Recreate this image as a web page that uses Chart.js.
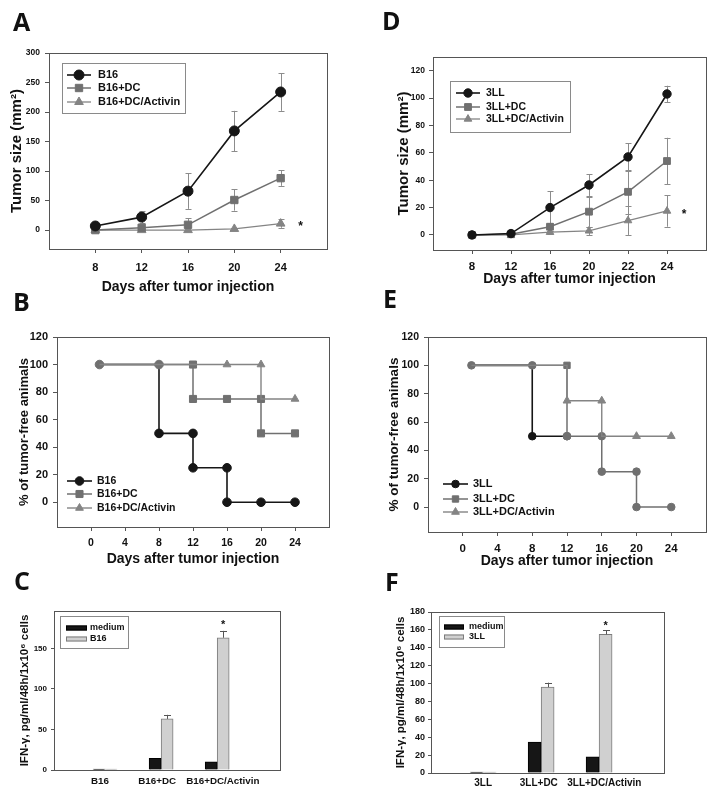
<!DOCTYPE html>
<html>
<head>
<meta charset="utf-8">
<title>Tumor growth, tumor-free animals and IFN-γ</title>
<script src="https://cdn.jsdelivr.net/npm/chart.js@4.4.1/dist/chart.umd.min.js"></script>
<style>
  body { margin: 0; background: #fff; }
  #fig { position: relative; width: 714px; height: 794px; overflow: hidden; }
  #fig canvas { position: absolute; }
  .tag { position: absolute; z-index: 2; color: #111; font: bold 25px/25px "Open Sans", sans-serif; }
</style>
</head>
<body>
<div id="fig">
  <canvas id="chartA" width="357" height="300" style="left:0;top:0"></canvas>
  <canvas id="chartD" width="357" height="300" style="left:357px;top:0"></canvas>
  <canvas id="chartB" width="357" height="290" style="left:0;top:290px"></canvas>
  <canvas id="chartE" width="357" height="290" style="left:357px;top:290px"></canvas>
  <canvas id="chartC" width="357" height="214" style="left:0;top:580px"></canvas>
  <canvas id="chartF" width="357" height="214" style="left:357px;top:580px"></canvas>
  <div class="tag" style="left:13px;top:9px">A</div>
  <div class="tag" style="left:382px;top:8px">D</div>
  <div class="tag" style="left:13px;top:289px">B</div>
  <div class="tag" style="left:383px;top:286px">E</div>
  <div class="tag" style="left:14px;top:568px">C</div>
  <div class="tag" style="left:385px;top:569px">F</div>
</div>
<script>
// A: B16 tumour size
var daysA = [8, 12, 16, 20, 24];
var b16Size = [7, 22, 66, 168, 234];
var b16SizeErr = [2, 10, 30, 34, 32];
var b16DcSize = [0, 4, 9, 51, 88];
var b16DcSizeErr = [0, 2, 11, 18, 13];
var b16ActSize = [0, 0, 0, 2, 11];
var b16ActSizeErr = [0, 0, 0, 1, 7];
var sizeTicksA = [0, 50, 100, 150, 200, 250, 300];

// D: 3LL tumour size (days drawn evenly spaced)
var daysD = ['8', '12', '16', '20', '22', '24'];
var lllSize = [0, 1, 20, 36.5, 57, 103];
var lllSizeErr = [0, 1, 12, 8, 10, 6];
var lllDcSize = [0, 0.5, 6, 17, 31.5, 54];
var lllDcSizeErr = [0, 0, 3, 11, 16, 17];
var lllActSize = [0, 0, 2, 3, 10.5, 17.5];
var lllActSizeErr = [0, 0, 1, 3, 10.5, 11.5];
var sizeTicksD = [0, 20, 40, 60, 80, 100, 120];

// B: B16 tumour-free animals (step curves, a drop is listed twice)
var b16Days = [1, 8, 8, 12, 12, 16, 16, 20, 24];
var b16Free = [100, 100, 50, 50, 25, 25, 0, 0, 0];
var b16DcDays = [1, 8, 12, 12, 16, 20, 20, 24];
var b16DcFree = [100, 100, 100, 75, 75, 75, 50, 50];
var b16ActDays = [1, 8, 12, 16, 20, 20, 24];
var b16ActFree = [100, 100, 100, 100, 100, 75, 75];

// E: 3LL tumour-free animals
var lllDays = [1, 8, 8, 12];
var lllFree = [100, 100, 50, 50];
var lllDcDays = [1, 8, 12, 12, 16, 16, 20, 20, 24];
var lllDcFree = [100, 100, 100, 50, 50, 25, 25, 0, 0];
var lllActDays = [1, 12, 12, 16, 16, 20, 24];
var lllActFree = [100, 100, 75, 75, 50, 50, 50];

var freeTicks = [0, 20, 40, 60, 80, 100, 120];
var dayTicks = [0, 4, 8, 12, 16, 20, 24];

// C / F: IFN-gamma
var groupsC = ['B16', 'B16+DC', 'B16+DC/Activin'];
var groupLabelAtC = [-0.09, 0.93, 2.1];
var mediumC = [1, 14.5, 10];
var b16C = [1, 63, 163];
var b16CErr = [0, 5, 8.5];
var ifnTicksC = [0, 50, 100, 150];

var groupsF = ['3LL', '3LL+DC', '3LL+DC/Activin'];
var groupLabelAtF = [0, 0.96, 2.09];
var mediumF = [1, 34.5, 18];
var lllF = [1, 96, 155];
var lllFErr = [0, 5, 4.5];
var ifnTicksF = [0, 20, 40, 60, 80, 100, 120, 140, 160, 180];

var FONT = '"Liberation Sans", Arial, sans-serif';
var INK = '#111111';
var DARK = '#161616';
var GREY = '#707070';
var GREY2 = '#848484';
var EDGE = '#555555';

Chart.defaults.font.family = FONT;
Chart.defaults.color = INK;

function pairs(xs, ys) {
   return xs.map(function (x, i) { return { x: x, y: ys[i] }; });
}
function idx(list) {
   return list.map(function (_, i) { return i; });
}

function axis(o) {
   return {
      type: 'linear', min: o.min, max: o.max, offset: false,
      afterBuildTicks: function (s) { s.ticks = o.ticks.map(function (v) { return { value: v }; }); },
      afterFit: function (s) { if (s.isHorizontal()) s.height = o.size; else s.width = o.size; },
      grid: { drawOnChartArea: false, drawTicks: o.tick > 0, tickLength: o.tick || 0, color: EDGE },
      border: { display: false },
      ticks: {
         autoSkip: false, maxRotation: 0, padding: o.pad, color: INK,
         font: { size: o.font, weight: 'bold' },
         callback: function (v, i) { return o.names ? o.names[i] : String(v); }
      },
      title: {
         display: !!o.title, text: o.title || '', color: INK,
         font: { size: o.titleSize, weight: 'bold' }, padding: o.titlePad
      }
   };
}

// box around the plot area
var frame = {
   id: 'frame',
   beforeDatasetsDraw: function (chart) {
      var a = chart.chartArea, ctx = chart.ctx;
      ctx.save();
      ctx.strokeStyle = EDGE;
      ctx.lineWidth = 1;
      ctx.strokeRect(Math.round(a.left) + 0.5, Math.round(a.top) + 0.5,
         Math.round(a.right - a.left), Math.round(a.bottom - a.top));
      ctx.restore();
   }
};

function drawErrors(chart, o) {
   var ctx = chart.ctx, y = chart.scales.y;
   ctx.save();
   ctx.strokeStyle = o.color;
   ctx.lineWidth = 1;
   chart.data.datasets.forEach(function (ds, d) {
      if (!ds.errors) return;
      chart.getDatasetMeta(d).data.forEach(function (el, i) {
         var e = ds.errors[i];
         if (!e) return;
         var v = ds.data[i].y;
         var top = y.getPixelForValue(v + e);
         var bot = o.upOnly ? el.y : y.getPixelForValue(v - e);
         var x = Math.round(el.x) + 0.5;
         ctx.beginPath();
         ctx.moveTo(x, top); ctx.lineTo(x, bot);
         ctx.moveTo(x - o.cap, Math.round(top) + 0.5); ctx.lineTo(x + o.cap, Math.round(top) + 0.5);
         if (!o.upOnly) {
            ctx.moveTo(x - o.cap, Math.round(bot) + 0.5); ctx.lineTo(x + o.cap, Math.round(bot) + 0.5);
         }
         ctx.stroke();
      });
   });
   ctx.restore();
}

var errBars = {
   id: 'errBars',
   beforeDatasetsDraw: function (chart, args, o) { if (o.color && o.under) drawErrors(chart, o); },
   afterDatasetsDraw: function (chart, args, o) { if (o.color && !o.under) drawErrors(chart, o); }
};

// legend drawn inside the plot
var keyBox = {
   id: 'keyBox',
   afterDraw: function (chart, args, o) {
      if (!o.rows) return;
      var ctx = chart.ctx;
      ctx.save();
      if (o.box) {
         ctx.fillStyle = '#fff';
         ctx.strokeStyle = '#8a8a8a';
         ctx.lineWidth = 1;
         ctx.fillRect(o.box[0], o.box[1], o.box[2] - o.box[0], o.box[3] - o.box[1]);
         ctx.strokeRect(o.box[0] + 0.5, o.box[1] + 0.5, o.box[2] - o.box[0], o.box[3] - o.box[1]);
      }
      ctx.font = 'bold ' + o.font + 'px ' + FONT;
      ctx.textBaseline = 'middle';
      chart.data.datasets.forEach(function (ds, i) {
         var y = o.rows[i];
         if (o.swatch) {
            ctx.fillStyle = ds.backgroundColor;
            ctx.strokeStyle = ds.borderColor;
            ctx.lineWidth = 1;
            ctx.fillRect(o.line[0], y - o.swatch / 2, o.line[1] - o.line[0], o.swatch);
            ctx.strokeRect(o.line[0] + 0.5, y - o.swatch / 2 + 0.5, o.line[1] - o.line[0] - 1, o.swatch - 1);
         } else {
            ctx.strokeStyle = ds.borderColor;
            ctx.lineWidth = ds.borderWidth;
            ctx.beginPath();
            ctx.moveTo(o.line[0], y); ctx.lineTo(o.line[1], y);
            ctx.stroke();
            ctx.fillStyle = ds.mark.color;
            ctx.strokeStyle = ds.mark.color;
            ctx.lineWidth = 1;
            Chart.helpers.drawPoint(ctx, { pointStyle: ds.mark.style, radius: ds.mark.r, rotation: 0, borderWidth: 1 },
               (o.line[0] + o.line[1]) / 2, y);
         }
         ctx.fillStyle = INK;
         ctx.fillText(ds.label, o.textX, y);
      });
      ctx.restore();
   }
};

// significance asterisk next to a data point
var star = {
   id: 'star',
   afterDatasetsDraw: function (chart, args, o) {
      if (o.dataset === undefined) return;
      var ds = chart.data.datasets[o.dataset];
      var el = chart.getDatasetMeta(o.dataset).data[o.index];
      var v = ds.data[o.index].y + (o.overErr ? ds.errors[o.index] : 0);
      var ctx = chart.ctx;
      ctx.save();
      ctx.fillStyle = INK;
      ctx.font = 'bold ' + o.size + 'px ' + FONT;
      ctx.textAlign = 'center';
      ctx.textBaseline = 'alphabetic';
      ctx.fillText('*', el.x + o.dx, chart.scales.y.getPixelForValue(v) + o.dy + o.size * 0.57);
      ctx.restore();
   }
};

function panel(id, type, datasets, x, y, pad, extra) {
   return new Chart(document.getElementById(id), {
      type: type,
      data: { datasets: datasets },
      options: {
         responsive: false, animation: false, devicePixelRatio: 1,
         layout: { padding: pad },
         scales: { x: x, y: y },
         plugins: Object.assign({ legend: { display: false }, tooltip: { enabled: false } }, extra)
      },
      plugins: [frame, errBars, keyBox, star]
   });
}

function series(label, data, color, width, style, r, extra) {
   return Object.assign({
      label: label, data: data, borderColor: color, borderWidth: width,
      pointStyle: style, pointRadius: r, pointBackgroundColor: color, pointBorderColor: color,
      pointBorderWidth: 1, tension: 0, fill: false,
      mark: { style: style, r: r, color: color }
   }, extra || {});
}

// ---- A ----
panel('chartA', 'line', [
   series('B16', pairs(daysA, b16Size), DARK, 1.6, 'circle', 5, { errors: b16SizeErr }),
   series('B16+DC', pairs(daysA, b16DcSize), GREY, 1.5, 'rect', 5.2, { errors: b16DcSizeErr }),
   series('B16+DC/Activin', pairs(daysA, b16ActSize), GREY2, 1.3, 'triangle', 5, { errors: b16ActSizeErr })
],
   axis({ min: 4, max: 28, ticks: daysA, size: 51, tick: 4, pad: 8, font: 11,
      title: 'Days after tumor injection', titleSize: 14, titlePad: { bottom: 4 } }),
   axis({ min: -32, max: 300, ticks: sizeTicksA, size: 49, tick: 4, pad: 5, font: 8.5,
      title: 'Tumor size (mm²)', titleSize: 15, titlePad: { top: 8 } }),
   { left: 0, top: 53, right: 30, bottom: 0 },
   {
      errBars: { color: '#8c8c8c', cap: 3, under: true },
      keyBox: { box: [62, 63, 185, 113], rows: [75, 88, 102], line: [67, 91], textX: 98, font: 11 },
      star: { dataset: 2, index: 4, dx: 20, dy: 0, size: 12 }
   });

// ---- D ----
panel('chartD', 'line', [
   series('3LL', pairs(idx(daysD), lllSize), DARK, 1.6, 'circle', 4.2, { errors: lllSizeErr }),
   series('3LL+DC', pairs(idx(daysD), lllDcSize), GREY, 1.5, 'rect', 4.8, { errors: lllDcSizeErr }),
   series('3LL+DC/Activin', pairs(idx(daysD), lllActSize), GREY2, 1.3, 'triangle', 4.4, { errors: lllActSizeErr })
],
   axis({ min: -1, max: 6, ticks: idx(daysD), names: daysD, size: 50, tick: 4, pad: 5.5, font: 11.5,
      title: 'Days after tumor injection', titleSize: 14, titlePad: { bottom: 12 } }),
   axis({ min: -11, max: 130, ticks: sizeTicksD, size: 76, tick: 4, pad: 4, font: 8.5,
      title: 'Tumor size (mm²)', titleSize: 15, titlePad: { top: 38 } }),
   { left: 0, top: 57, right: 8, bottom: 0 },
   {
      errBars: { color: '#8c8c8c', cap: 3, under: true },
      keyBox: { box: [93, 81, 213, 132], rows: [93, 107, 119], line: [99, 123], textX: 129, font: 10.5 },
      star: { dataset: 2, index: 5, dx: 17, dy: 0, size: 12 }
   });

// ---- B ----
panel('chartB', 'line', [
   series('B16', pairs(b16Days, b16Free), DARK, 1.6, 'circle', 4.3, {
      order: 3,
      pointBackgroundColor: b16Days.map(function (d, i) { return i < 2 ? GREY : DARK; }),
      pointBorderColor: b16Days.map(function (d, i) { return i < 2 ? GREY : DARK; })
   }),
   series('B16+DC', pairs(b16DcDays, b16DcFree), GREY, 1.5, 'rect', 5, {
      order: 2, pointRadius: [0, 0, 5, 5, 5, 5, 5, 5]
   }),
   series('B16+DC/Activin', pairs(b16ActDays, b16ActFree), GREY2, 1.4, 'triangle', 4.5, {
      order: 1, pointRadius: [0, 0, 0, 4.5, 4.5, 0, 4.5]
   })
],
   axis({ min: -4, max: 28, ticks: dayTicks, size: 53, tick: 4, pad: 6, font: 10.5,
      title: 'Days after tumor injection', titleSize: 14, titlePad: { bottom: 12 } }),
   axis({ min: -18, max: 120, ticks: freeTicks, size: 57, tick: 4, pad: 5, font: 11,
      title: '% of tumor-free animals', titleSize: 13, titlePad: { top: 17 } }),
   { left: 0, top: 47, right: 28, bottom: 0 },
   {
      keyBox: { box: null, rows: [191, 204, 218], line: [67, 92], textX: 97, font: 10.5 }
   });

// ---- E ----
panel('chartE', 'line', [
   series('3LL', pairs(lllDays, lllFree), DARK, 1.6, 'circle', 3.8, {
      order: 3,
      pointBackgroundColor: [GREY, GREY, DARK, GREY],
      pointBorderColor: [GREY, GREY, DARK, GREY]
   }),
   series('3LL+DC', pairs(lllDcDays, lllDcFree), GREY, 1.5, 'rect', 4.5, {
      order: 2,
      pointStyle: ['circle', 'circle', 'rect', 'circle', 'circle', 'circle', 'circle', 'circle', 'circle'],
      pointRadius: [0, 0, 4.5, 3.8, 3.8, 3.8, 3.8, 3.8, 3.8]
   }),
   series('3LL+DC/Activin', pairs(lllActDays, lllActFree), GREY2, 1.4, 'triangle', 4.5, {
      order: 1, pointRadius: [0, 0, 4.5, 4.5, 0, 4.5, 4.5]
   })
],
   axis({ min: -4, max: 28, ticks: dayTicks, size: 48, tick: 4, pad: 6, font: 11.5,
      title: 'Days after tumor injection', titleSize: 14, titlePad: { bottom: 10.5 } }),
   axis({ min: -17.6, max: 120, ticks: freeTicks, size: 71, tick: 4, pad: 5, font: 10.5,
      title: '% of tumor-free animals', titleSize: 13.5, titlePad: { top: 29 } }),
   { left: 0, top: 47, right: 8, bottom: 0 },
   {
      keyBox: { box: null, rows: [194, 209, 222], line: [86, 111], textX: 116, font: 11 }
   });

// ---- C ----
function bars(label, data, fill, edge, w, errors) {
   return { label: label, data: data, backgroundColor: fill, borderColor: edge, borderWidth: 1,
      barThickness: w, errors: errors };
}

panel('chartC', 'bar', [
   bars('medium', pairs(idx(groupsC), mediumC), DARK, '#000', 12),
   bars('B16', pairs(idx(groupsC), b16C), '#d0d0d0', '#7c7c7c', 12, b16CErr)
],
   axis({ min: -0.91, max: 3.12, ticks: groupLabelAtC, names: groupsC, size: 24, tick: 0, pad: 5, font: 9.8 }),
   axis({ min: 0, max: 196, ticks: ifnTicksC, size: 54, tick: 3, pad: 4, font: 8,
      title: 'IFN-γ, pg/ml/48h/1x10⁶ cells', titleSize: 11.5, titlePad: { top: 18 } }),
   { left: 0, top: 31, right: 77, bottom: 0 },
   {
      errBars: { color: '#555', cap: 3.5, upOnly: true },
      keyBox: { box: [60, 36, 128, 68], rows: [48, 59], line: [66, 87], swatch: 5, textX: 90, font: 9 },
      star: { dataset: 1, index: 2, overErr: true, dx: 0, dy: -9, size: 11 }
   });

// ---- F ----
panel('chartF', 'bar', [
   bars('medium', pairs(idx(groupsF), mediumF), DARK, '#000', 13),
   bars('3LL', pairs(idx(groupsF), lllF), '#d0d0d0', '#7c7c7c', 13, lllFErr)
],
   axis({ min: -0.9, max: 3.12, ticks: groupLabelAtF, names: groupsF, size: 21, tick: 0, pad: 4, font: 10 }),
   axis({ min: 0, max: 180, ticks: ifnTicksF, size: 74, tick: 3, pad: 3, font: 9,
      title: 'IFN-γ, pg/ml/48h/1x10⁶ cells', titleSize: 11.5, titlePad: { top: 37 } }),
   { left: 0, top: 32, right: 50, bottom: 0 },
   {
      errBars: { color: '#555', cap: 3.5, upOnly: true },
      keyBox: { box: [82, 36, 147, 67], rows: [47, 57], line: [87, 107], swatch: 5, textX: 112, font: 9 },
      star: { dataset: 1, index: 2, overErr: true, dx: 0, dy: -8, size: 11 }
   });
</script>
</body>
</html>
